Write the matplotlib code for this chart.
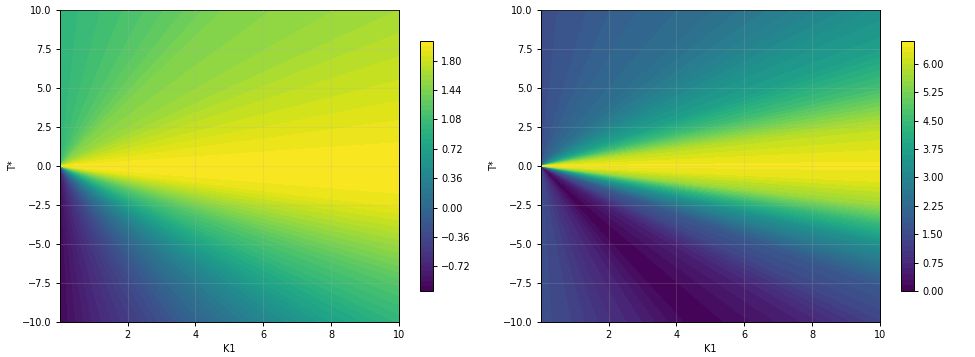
import numpy as np
import matplotlib
matplotlib.use("Agg")
import matplotlib.pyplot as plt

# readings taken along the plot frame: K1, T* and the colour value seen there
# every ray from the origin keeps one value, so the frame gives the whole field
frame_k = [0.01, 1, 2.5, 5, 10, 10, 10, 10, 10, 10, 10, 10, 10, 10, 10, 10,
           8, 6, 4.7, 4, 3, 2, 1, 0.01]
frame_t = [10, 10, 10, 10, 10, 7.5, 5, 2.5, 1, 0, -1, -2.5, -3.75, -5, -7.5, -10,
           -10, -10, -10, -10, -10, -10, -10, -10]
left_vals = [0.97, 1.06, 1.2, 1.46, 1.62, 1.72, 1.82, 1.94, 2.0, 2.03, 2.02, 1.94,
             1.76, 1.58, 1.22, 0.97, 0.72, 0.36, 0.1, -0.04, -0.28, -0.5, -0.71, -0.96]
right_vals = [1.58, 1.72, 2.05, 2.38, 3.35, 3.7, 4.6, 5.94, 6.3, 6.5, 6.3, 5.6,
              4.36, 3.3, 1.85, 1.32, 0.66, 0.26, 0.02, 0.2, 0.59, 0.92, 1.32, 1.58]

left_ticks = [-0.72, -0.36, 0.0, 0.36, 0.72, 1.08, 1.44, 1.80]
right_ticks = [0.0, 0.75, 1.5, 2.25, 3.0, 3.75, 4.5, 5.25, 6.0]
left_levels = np.arange(-1.02, 2.05, 0.06)
right_levels = np.arange(0, 6.61, 0.15)

W, H = 975.0, 357.0


def px_axes(fig, x0, y0, x1, y1):
    # pixel box measured from the top left of the picture
    return fig.add_axes([x0 / W, 1 - y1 / H, (x1 - x0) / W, (y1 - y0) / H])


def panel(fig, x0, vals, levels, ticks):
    ax = px_axes(fig, x0, 10, x0 + 339, 322)
    k = np.array(frame_k)
    t = np.array(frame_t)
    s = np.array([0.001, 1.0])
    X = np.outer(s, k)
    Y = np.outer(s, t)
    Z = np.vstack([vals, vals])
    cf = ax.contourf(X, Y, Z, levels=levels, cmap="viridis")
    ax.set_xlim(0.01, 10)
    ax.set_ylim(-10, 10)
    ax.set_xticks([2, 4, 6, 8, 10])
    ax.set_yticks(np.arange(-10, 10.1, 2.5))
    ax.set_axisbelow(False)
    ax.grid(color="#b0b0b0", alpha=0.2, lw=0.8)
    ax.tick_params(labelsize=7, length=3, width=0.7, pad=3)
    ax.set_xlabel("K1", fontsize=7, labelpad=3)
    ax.set_ylabel("T*", fontsize=7, labelpad=3)
    for sp in ax.spines.values():
        sp.set_linewidth(0.7)

    cax = px_axes(fig, x0 + 360, 41, x0 + 373, 291)
    cb = fig.colorbar(cf, cax=cax, ticks=ticks)
    cb.ax.set_yticklabels(["%.2f" % v if v >= 0 else "\u2212%.2f" % -v for v in ticks])
    cb.ax.tick_params(labelsize=7, length=3, width=0.7, pad=3)
    cb.outline.set_linewidth(0.7)
    return ax


fig = plt.figure(figsize=(9.75, 3.57), dpi=100)
panel(fig, 60, left_vals, left_levels, left_ticks)
panel(fig, 541, right_vals, right_levels, right_ticks)
fig.savefig("out.png", dpi=100)
